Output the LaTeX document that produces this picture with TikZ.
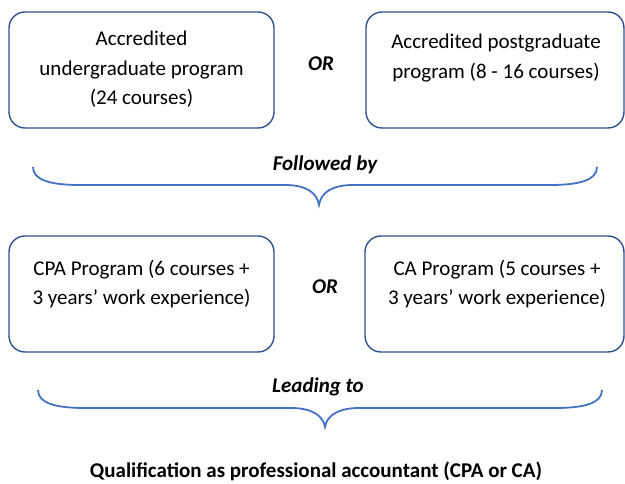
\documentclass[tikz,border=0pt]{standalone}
\usepackage{fontspec}
\setmainfont{Carlito}
\begin{document}
\begin{tikzpicture}[x=1pt,y=-1pt,
  progbox/.style={draw=boxblue, line width=1.4pt, rounded corners=16pt, inner sep=0pt},
  boxtext/.style={align=center, font=\fontsize{21}{29.5}\selectfont, inner sep=0pt},
  joiner/.style={font=\fontsize{21}{25}\selectfont\bfseries\itshape, inner sep=0pt},
  bracepath/.style={draw=braceblue, line width=1.8pt},
  result/.style={font=\fontsize{21}{25}\selectfont\bfseries, inner sep=0pt}]
\definecolor{boxblue}{HTML}{2F528F}
\definecolor{braceblue}{HTML}{4472C4}
\useasboundingbox (0,0) rectangle (625,484);

% study options
\draw[progbox] (9,12) rectangle (274,128);
\draw[progbox] (366,12) rectangle (624,128);
\node[boxtext] (ug) at (141.5,69.5) {Accredited\\undergraduate program\\(24 courses)};
\node[boxtext] (pg) at (496,58) {Accredited postgraduate\\program (8 - 16 courses)};
\node[joiner] (or1) at (321,64) {OR};

% first brace
\node[joiner] (fb) at (325,165) {Followed by};
\draw[bracepath] (33,167) .. controls (33,180) and (50,185) .. (80,185) -- (285,185)
  .. controls (305,185) and (317,192) .. (319,205)
  .. controls (321,192) and (333,185) .. (353,185) -- (550,185)
  .. controls (580,185) and (597,180) .. (597,167);

% professional programs
\draw[progbox] (9,236) rectangle (274,352);
\draw[progbox] (365,236) rectangle (624,352);
\node[boxtext] (cpa) at (141.5,284) {CPA Program (6 courses +\\3 years’ work experience)};
\node[boxtext] (ca) at (497,284) {CA Program (5 courses +\\3 years’ work experience)};
\node[joiner] (or2) at (325,287) {OR};

% second brace
\node[joiner] (lt) at (318,387) {Leading to};
\draw[bracepath] (38,390) .. controls (38,403) and (55,408) .. (85,408) -- (291,408)
  .. controls (311,408) and (323,415) .. (325,427)
  .. controls (327,415) and (339,408) .. (359,408) -- (555,408)
  .. controls (585,408) and (602,403) .. (602,390);

% outcome
\node[result] (qual) at (316,471) {Qualification as professional accountant (CPA or CA)};
\end{tikzpicture}
\end{document}
